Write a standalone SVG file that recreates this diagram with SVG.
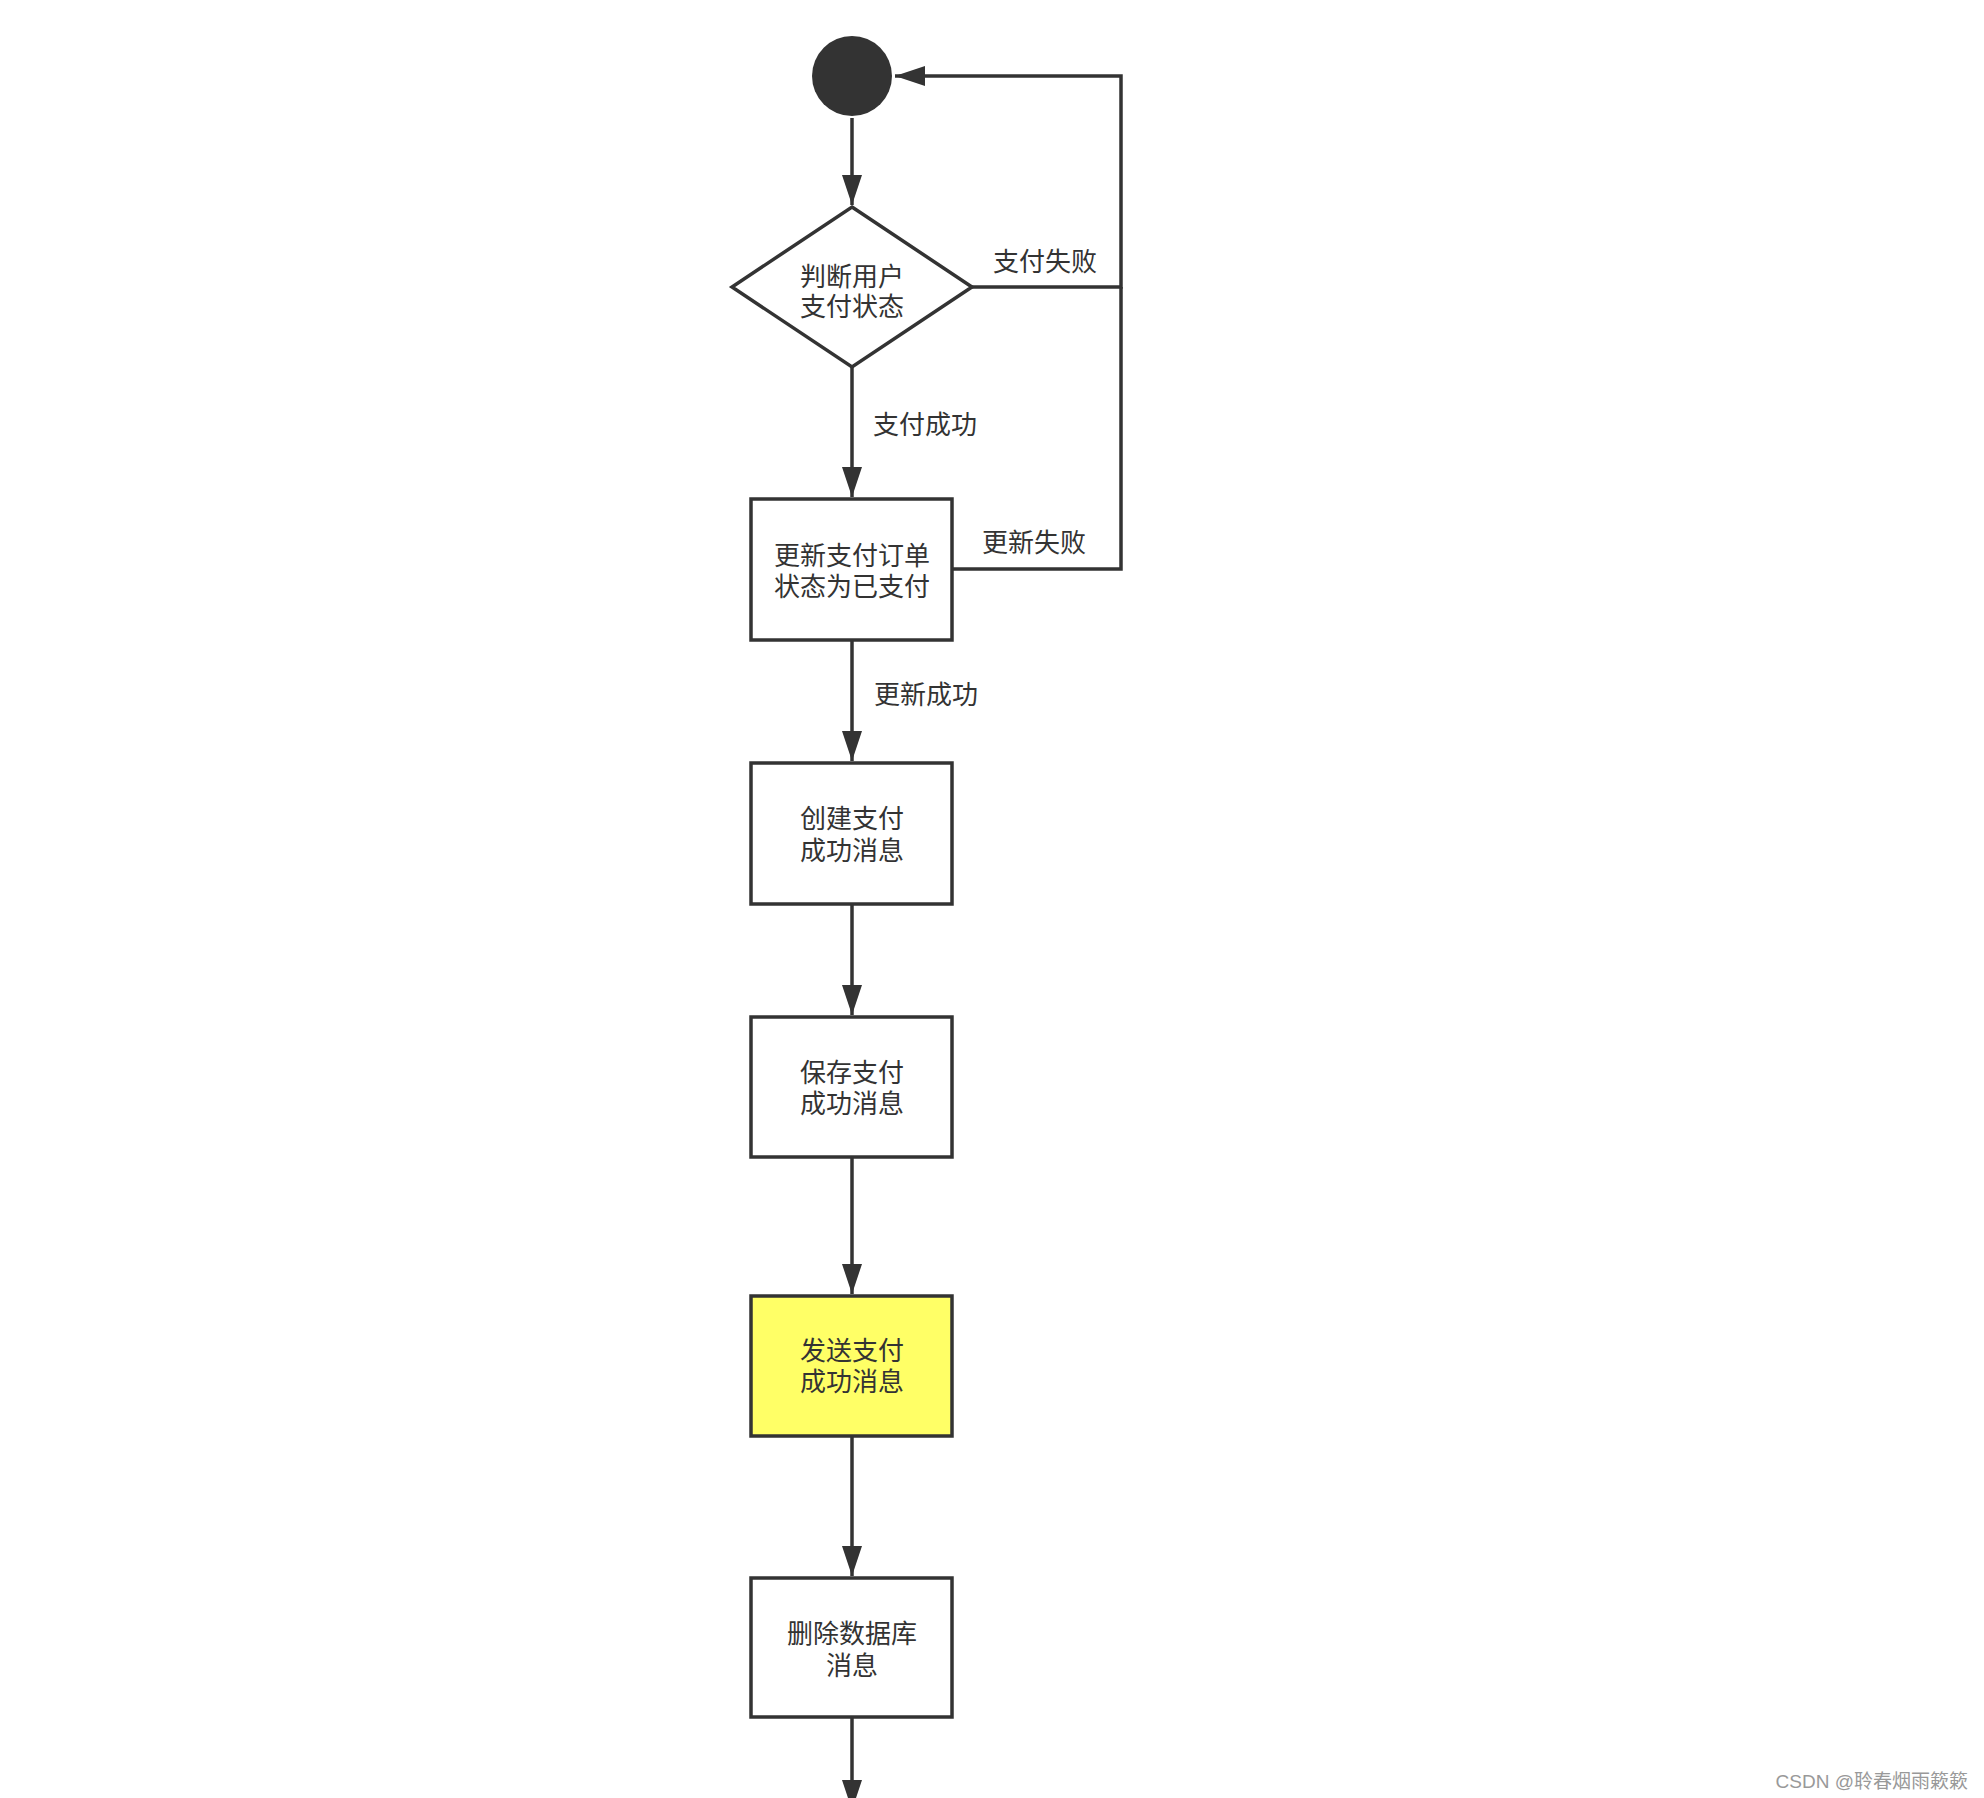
<svg xmlns="http://www.w3.org/2000/svg" width="1984" height="1798" viewBox="0 0 1984 1798">
<style>
.box{fill:#ffffff;stroke:#333333;stroke-width:3.5}
.yellow{fill:#ffff66}
.t{font-family:"Liberation Sans","Noto Sans CJK SC",sans-serif;font-size:26px;fill:#333333;text-anchor:middle;dominant-baseline:central}
.conn{fill:none;stroke:#333333;stroke-width:3.5}
.wm{font-family:"Liberation Sans","Noto Sans CJK SC",sans-serif;font-size:19px;fill:#999999;text-anchor:end;dominant-baseline:central}
</style>
<defs>
<marker id="arr" markerUnits="userSpaceOnUse" markerWidth="30" markerHeight="20" refX="30" refY="10" orient="auto">
<path d="M0,0 L30,10 L0,20 z" fill="#333333"/>
</marker>
</defs>
<rect width="1984" height="1798" fill="#ffffff"/>
<g id="connectors">
<path class="conn" d="M852,118 V205" marker-end="url(#arr)"/>
<path class="conn" d="M852,367 V497" marker-end="url(#arr)"/>
<path class="conn" d="M972,287 H1121 V76 H895" marker-end="url(#arr)"/>
<path class="conn" d="M952,569 H1121 V287"/>
<path class="conn" d="M852,640 V761" marker-end="url(#arr)"/>
<path class="conn" d="M852,904 V1015" marker-end="url(#arr)"/>
<path class="conn" d="M852,1157 V1294" marker-end="url(#arr)"/>
<path class="conn" d="M852,1436 V1576" marker-end="url(#arr)"/>
<path class="conn" d="M852,1717 V1810" marker-end="url(#arr)"/>
<text class="t" x="1045" y="262">支付失败</text>
<text class="t" x="925" y="425">支付成功</text>
<text class="t" x="1034" y="543">更新失败</text>
<text class="t" x="926" y="695">更新成功</text>
</g>
<g id="start">
<circle cx="852" cy="76" r="40" fill="#333333"/>
</g>
<g id="decision">
<polygon class="box" points="852,207 972,287 852,367 732,287"/>
<text class="t" x="852" y="277">判断用户</text>
<text class="t" x="852" y="307">支付状态</text>
</g>
<g id="update">
<rect class="box" x="751" y="499" width="201" height="141"/>
<text class="t" x="852" y="556">更新支付订单</text>
<text class="t" x="852" y="587">状态为已支付</text>
</g>
<g id="create">
<rect class="box" x="751" y="763" width="201" height="141"/>
<text class="t" x="852" y="819">创建支付</text>
<text class="t" x="852" y="851">成功消息</text>
</g>
<g id="save">
<rect class="box" x="751" y="1017" width="201" height="140"/>
<text class="t" x="852" y="1073">保存支付</text>
<text class="t" x="852" y="1104">成功消息</text>
</g>
<g id="send">
<rect class="box yellow" x="751" y="1296" width="201" height="140"/>
<text class="t" x="852" y="1351">发送支付</text>
<text class="t" x="852" y="1382">成功消息</text>
</g>
<g id="delete">
<rect class="box" x="751" y="1578" width="201" height="139"/>
<text class="t" x="852" y="1634">删除数据库</text>
<text class="t" x="852" y="1666">消息</text>
</g>
<text class="wm" x="1968" y="1781">CSDN @聆春烟雨簌簌</text>
</svg>
